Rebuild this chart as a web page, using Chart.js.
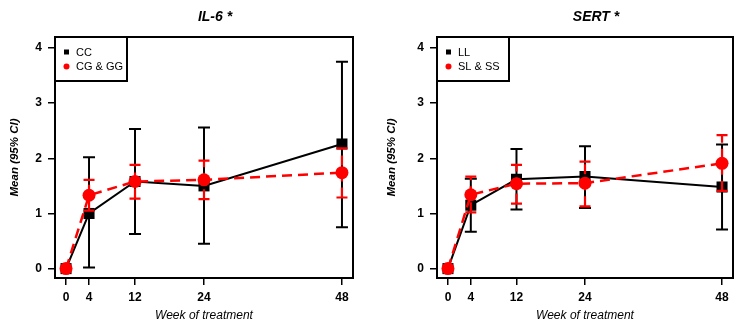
<!DOCTYPE html>
<html>
<head>
<meta charset="utf-8">
<script src="https://cdn.jsdelivr.net/npm/chart.js@4"></script>
<style>
  html, body { margin: 0; padding: 0; background: #fff; }
  body { width: 734px; height: 323px; overflow: hidden; position: relative; }
  canvas { position: absolute; top: 0; }
  #il6 { left: 0; }
  #sert { left: 367px; }
</style>
</head>
<body>
<canvas id="il6" width="367" height="323"></canvas>
<canvas id="sert" width="380" height="323"></canvas>
<script>
const weeks = [0, 4, 12, 24, 48];
const yTicks = [0, 1, 2, 3, 4];

// IL-6 panel
const il6CC = [0, 1.0, 1.58, 1.50, 2.26];
const il6CCLow = [0, 0.02, 0.63, 0.45, 0.75];
const il6CCHigh = [0, 2.02, 2.53, 2.56, 3.75];
const il6CG = [0, 1.33, 1.58, 1.61, 1.74];
const il6CGLow = [0, 1.05, 1.27, 1.26, 1.29];
const il6CGHigh = [0, 1.61, 1.88, 1.96, 2.18];

// SERT panel
const sertLL = [0, 1.15, 1.62, 1.67, 1.48];
const sertLLLow = [0, 0.67, 1.07, 1.10, 0.71];
const sertLLHigh = [0, 1.63, 2.17, 2.22, 2.25];
const sertSS = [0, 1.34, 1.54, 1.55, 1.91];
const sertSSLow = [0, 1.02, 1.18, 1.13, 1.41];
const sertSSHigh = [0, 1.67, 1.88, 1.94, 2.42];

const FONT = "'Liberation Sans', Arial, sans-serif";

function toPoints(vals) {
  return weeks.map((w, i) => ({ x: w, y: vals[i] }));
}

// error bars drawn just before each dataset so layers stay black -> red
const errorBars = {
  id: "errorBars",
  beforeDatasetDraw(chart, args) {
    const ds = chart.data.datasets[args.index];
    if (!ds.low) return;
    const ctx = chart.ctx;
    const xs = chart.scales.x, ys = chart.scales.y;
    ctx.save();
    ctx.strokeStyle = ds.borderColor;
    ctx.lineWidth = ds.barWidth;
    for (let i = 0; i < weeks.length; i++) {
      if (ds.low[i] === ds.high[i]) continue;
      const px = xs.getPixelForValue(weeks[i]);
      const y1 = ys.getPixelForValue(ds.low[i]);
      const y2 = ys.getPixelForValue(ds.high[i]);
      ctx.setLineDash(ds.borderDash || []);
      ctx.beginPath();
      ctx.moveTo(px, y1);
      ctx.lineTo(px, y2);
      ctx.stroke();
      ctx.setLineDash([]);
      ctx.beginPath();
      ctx.moveTo(px - ds.capHalf, y1);
      ctx.lineTo(px + ds.capHalf, y1);
      ctx.moveTo(px - ds.capHalf, y2);
      ctx.lineTo(px + ds.capHalf, y2);
      ctx.stroke();
    }
    ctx.restore();
  }
};

const frameAndLabels = {
  id: "frameAndLabels",
  beforeDatasetsDraw(chart) {
    const { ctx, chartArea: a } = chart;
    ctx.save();
    ctx.strokeStyle = "#000";
    ctx.lineWidth = 2;
    ctx.strokeRect(a.left, a.top, a.right - a.left, a.bottom - a.top);
    ctx.restore();
  },
  afterDatasetsDraw(chart, args, opts) {
    const { ctx, chartArea: a } = chart;
    ctx.save();
    // panel title
    ctx.fillStyle = "#000";
    ctx.font = "italic bold 14px " + FONT;
    ctx.textAlign = "center";
    ctx.textBaseline = "middle";
    ctx.fillText(opts.title, (a.left + a.right) / 2 + 11, 17);
    // legend box
    const lx = a.left, ly = a.top;
    ctx.lineWidth = 2;
    ctx.strokeStyle = "#000";
    ctx.strokeRect(lx, ly, opts.legendWidth, 44);
    ctx.font = "11px " + FONT;
    ctx.textAlign = "left";
    chart.data.datasets.forEach((ds, i) => {
      const cy = ly + 15 + i * 14.5;
      ctx.fillStyle = ds.backgroundColor;
      if (ds.pointStyle === "rect") {
        ctx.fillRect(lx + 9, cy - 2.5, 5, 5);
      } else {
        ctx.beginPath();
        ctx.arc(lx + 11.5, cy, 3, 0, Math.PI * 2);
        ctx.fill();
      }
      ctx.fillStyle = "#000";
      ctx.fillText(ds.label, lx + 21, cy + 0.5);
    });
    ctx.restore();
  }
};

function makeChart(id, title, blackLabel, black, blackLow, blackHigh, redLabel, red, redLow, redHigh, yWidth, yTitlePad, padRight, legendWidth) {
  return new Chart(document.getElementById(id), {
    type: "line",
    data: {
      datasets: [
        {
          label: blackLabel,
          data: toPoints(black),
          low: blackLow,
          high: blackHigh,
          borderColor: "#000",
          backgroundColor: "#000",
          borderWidth: 2,
          barWidth: 2,
          capHalf: 6,
          pointStyle: "rect",
          pointRadius: 7.8,
          pointBorderWidth: 0,
          order: 1,
        },
        {
          label: redLabel,
          data: toPoints(red),
          low: redLow,
          high: redHigh,
          borderColor: "#ff0000",
          backgroundColor: "#ff0000",
          borderWidth: 2.5,
          borderDash: [10, 6],
          barWidth: 2.2,
          capHalf: 5.5,
          pointStyle: "circle",
          pointRadius: 6.5,
          pointBorderWidth: 0,
          order: 0,
        },
      ],
    },
    options: {
      responsive: false,
      animation: false,
      devicePixelRatio: 1,
      layout: { padding: { top: 37, right: padRight, bottom: 0, left: 0 } },
      plugins: {
        legend: { display: false },
        tooltip: { enabled: false },
        frameAndLabels: { title: title, legendWidth: legendWidth },
      },
      scales: {
        x: {
          type: "linear",
          min: -1.92,
          max: 49.92,
          afterBuildTicks: (s) => { s.ticks = weeks.map((v) => ({ value: v })); },
          afterFit: (s) => { s.height = 45; },
          grid: { drawOnChartArea: false, drawTicks: true, tickLength: 7, color: "#000", lineWidth: 1.5 },
          border: { display: true, color: "#000", width: 2 },
          ticks: { color: "#000", padding: 5, font: { family: FONT, size: 12, weight: "bold" }, maxRotation: 0 },
          title: {
            display: true,
            text: "Week of treatment",
            color: "#000",
            padding: { top: 0, bottom: 0 },
            font: { family: FONT, size: 12, style: "italic" },
          },
        },
        y: {
          min: -0.17,
          max: 4.2,
          afterBuildTicks: (s) => { s.ticks = yTicks.map((v) => ({ value: v })); },
          afterFit: (s) => { s.width = yWidth; },
          grid: { drawOnChartArea: false, drawTicks: true, tickLength: 7, color: "#000", lineWidth: 1.5 },
          border: { display: true, color: "#000", width: 2 },
          ticks: { color: "#000", padding: 6, font: { family: FONT, size: 12, weight: "bold" } },
          title: {
            display: true,
            text: "Mean (95% CI)",
            color: "#000",
            padding: { top: yTitlePad, bottom: 0 },
            font: { family: FONT, size: 11.5, style: "italic", weight: "bold" },
          },
        },
      },
    },
    plugins: [errorBars, frameAndLabels],
  });
}

makeChart("il6", "IL-6 *", "CC", il6CC, il6CCLow, il6CCHigh, "CG & GG", il6CG, il6CGLow, il6CGHigh, 55, 8, 14, 72);
makeChart("sert", "SERT *", "LL", sertLL, sertLLLow, sertLLHigh, "SL & SS", sertSS, sertSSLow, sertSSHigh, 70, 18, 14, 72);
</script>
</body>
</html>
